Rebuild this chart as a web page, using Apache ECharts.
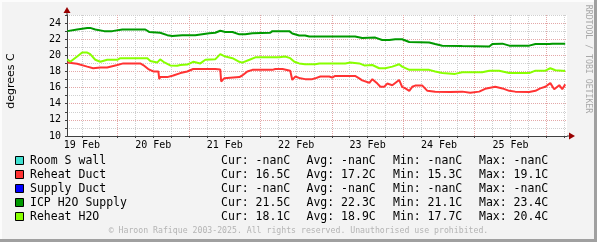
<!DOCTYPE html>
<html>
<head>
<meta charset="utf-8">
<script src="https://cdn.jsdelivr.net/npm/echarts@6/dist/echarts.min.js"></script>
<style>
html,body{margin:0;padding:0;background:#f3f3f3;}
#c{width:597px;height:242px;}
</style>
</head>
<body>
<div id="c"></div>
<script>
// ---- data (hours since 19 Feb 00:00, degrees C) ----
const xMin = 7, xMax = 175;
const dayLabelHours = [12, 36, 60, 84, 108, 132, 156];
const dayLabels = ['19 Feb', '20 Feb', '21 Feb', '22 Feb', '23 Feb', '24 Feb', '25 Feb'];
const gridHours = [12, 18, 24, 30, 36, 42, 48, 54, 60, 66, 72, 78, 84, 90, 96, 102, 108, 114, 120, 126, 132, 138, 144, 150, 156, 162, 168, 174];
const yLabelValues = [10, 12, 14, 16, 18, 20, 22, 24];

const roomSWall = [];
const supplyDuct = [];
const reheatDuct = [
  [7.1,19.1],[10.4,18.95],[13.8,18.6],[15.8,18.4],[18.2,18.5],[20.5,18.5],[23.9,18.8],[25.9,19.0],
  [31.6,19.0],[32.6,18.8],[34.3,18.3],[36.0,18.0],[37.7,18.0],[38.0,17.05],[38.3,17.3],[40.7,17.3],
  [42.7,17.5],[45.1,17.8],[47.4,18.0],[49.4,18.3],[56.8,18.3],[58.5,18.25],[58.8,16.75],[59.8,17.15],
  [64.9,17.3],[65.9,17.5],[67.6,18.0],[69.3,18.2],[76.0,18.2],[77.0,18.3],[79.4,18.3],[82.0,18.1],
  [82.7,16.95],[83.7,17.37],[85.4,17.15],[87.0,17.05],[89.4,17.05],[90.4,17.15],[92.1,17.37],[95.1,17.37],
  [96.1,17.25],[97.1,17.45],[103.8,17.45],[105.2,17.15],[106.2,16.9],[108.6,16.6],[109.6,17.05],[111.3,16.5],
  [112.3,16.1],[113.6,16.1],[114.6,16.5],[116.3,16.3],[118.6,16.95],[119.6,16.1],[120.7,15.9],[122.0,15.6],
  [123.0,16.1],[124.0,16.25],[126.4,16.25],[128.1,15.6],[130.7,15.5],[135.7,15.45],[139.8,15.5],[142.5,15.35],
  [145.5,15.5],[147.5,15.85],[150.9,16.1],[153.3,15.9],[155.6,15.6],[157.6,15.5],[162.3,15.45],[164.4,15.6],
  [166.0,15.9],[167.7,16.1],[169.4,16.55],[170.7,15.8],[172.4,16.3],[173.4,15.8],[174.4,16.4]
];
const icpH2OSupply = [
  [7.1,23.0],[10.4,23.2],[13.8,23.4],[14.8,23.4],[16.5,23.2],[19.5,23.0],[22.2,23.0],[25.6,23.2],
  [33.3,23.2],[34.6,22.9],[38.3,22.8],[40.7,22.5],[42.4,22.4],[45.7,22.5],[50.1,22.5],[54.8,22.75],
  [56.8,22.8],[58.5,23.05],[60.2,22.9],[62.6,22.9],[64.9,22.6],[66.9,22.6],[69.3,22.75],[75.3,22.8],
  [76.0,23.0],[81.7,23.0],[82.7,22.7],[85.0,22.45],[87.0,22.45],[88.4,22.33],[103.8,22.33],[106.2,22.15],
  [110.6,22.2],[112.9,21.9],[115.3,21.9],[117.3,22.0],[119.6,22.0],[122.0,21.65],[128.7,21.6],[130.7,21.4],
  [133.1,21.2],[139.8,21.15],[148.9,21.1],[149.9,21.4],[153.3,21.45],[155.6,21.2],[162.3,21.2],[164.4,21.4],
  [169.1,21.4],[170.1,21.45],[174.4,21.45]
];
const reheatH2O = [
  [7.1,19.5],[8.1,19.2],[10.4,19.85],[12.1,20.35],[13.8,20.35],[14.8,20.15],[16.5,19.45],[18.2,19.2],
  [20.5,19.45],[23.9,19.45],[24.9,19.65],[34.0,19.65],[35.0,19.3],[37.3,19.1],[38.3,19.5],[39.4,19.2],
  [41.7,18.75],[44.0,18.7],[45.1,18.8],[47.4,18.85],[49.4,19.2],[51.8,19.0],[53.5,19.45],[56.8,19.5],
  [58.5,20.15],[60.2,19.85],[62.6,19.65],[64.9,19.2],[65.9,19.1],[68.3,19.45],[70.3,19.75],[78.3,19.75],
  [80.3,19.85],[82.0,19.65],[83.4,19.2],[85.0,19.0],[87.0,18.9],[90.4,18.9],[91.8,19.0],[100.5,19.0],
  [102.2,19.1],[105.2,19.0],[106.9,18.75],[109.6,18.8],[111.9,18.4],[113.9,18.4],[116.3,18.6],[118.6,18.9],
  [119.6,18.6],[122.0,18.2],[128.7,18.2],[130.7,18.0],[133.1,17.8],[137.4,17.7],[139.8,17.9],[146.5,17.9],
  [148.9,18.1],[152.2,18.1],[155.6,17.8],[162.3,17.8],[164.4,18.1],[167.7,18.1],[169.4,18.4],[171.1,18.15],
  [173.4,18.1],[174.4,18.05]
];

// legend table
const seriesNames = ['Room S wall', 'Reheat Duct', 'Supply Duct', 'ICP H2O Supply', 'Reheat H2O'];
const seriesColors = ['#40e0d0', '#ff3333', '#0000ff', '#009900', '#88ff00'];
const curVals = ['-nanC', '16.5C', '-nanC', '21.5C', '18.1C'];
const avgVals = ['-nanC', '17.2C', '-nanC', '22.3C', '18.9C'];
const minVals = ['-nanC', '15.3C', '-nanC', '21.1C', '17.7C'];
const maxVals = ['-nanC', '19.1C', '-nanC', '23.4C', '20.4C'];
const seriesData = [roomSWall, reheatDuct, supplyDuct, icpH2OSupply, reheatH2O];

const MONO = '"DejaVu Sans Mono", monospace';
const majorGrid = '#e4a8a8';
const minorGrid = '#cfcfcf';

const chart = echarts.init(document.getElementById('c'), null, {renderer: 'canvas'});

const graphics = [];
// frame
graphics.push({type:'rect', shape:{x:0,y:0,width:597,height:242}, style:{fill:'#f3f3f3'}, z:-10});
graphics.push({type:'rect', shape:{x:0,y:0,width:597,height:2}, style:{fill:'#fcfcfc'}, z:-9});
graphics.push({type:'rect', shape:{x:0,y:0,width:2,height:242}, style:{fill:'#fcfcfc'}, z:-9});
graphics.push({type:'rect', shape:{x:594,y:0,width:3,height:242}, style:{fill:'#a0a0a0'}, z:-9});
graphics.push({type:'rect', shape:{x:0,y:239,width:597,height:3}, style:{fill:'#a0a0a0'}, z:-9});
// axis extensions + arrows
graphics.push({type:'line', shape:{x1:67,y1:15,x2:67,y2:10}, style:{stroke:'#404040',lineWidth:1}, z:10});
graphics.push({type:'line', shape:{x1:567,y1:136,x2:571,y2:136}, style:{stroke:'#404040',lineWidth:1}, z:10});
graphics.push({type:'polygon', shape:{points:[[63.5,13],[70.5,13],[67,7]]}, style:{fill:'#990000'}, z:11});
graphics.push({type:'polygon', shape:{points:[[569,132.5],[569,139.5],[575,136]]}, style:{fill:'#990000'}, z:11});
// y axis title
graphics.push({type:'text', x:11, y:81, rotation:Math.PI/2,
  style:{text:'degrees C', font:'11px "DejaVu Sans", sans-serif', fill:'#000', align:'center', verticalAlign:'middle'}});
// right credit
graphics.push({type:'text', x:588.5, y:59, rotation:-Math.PI/2,
  style:{text:'RRDTOOL / TOBI OETIKER', font:'8.2px ' + MONO, fill:'#a8a8a8', align:'center', verticalAlign:'middle'}});
// legend rows
for (let i = 0; i < seriesNames.length; i++) {
  const cy = 161 + i * 14;
  graphics.push({type:'rect', shape:{x:15.5,y:cy-4.5,width:8,height:8}, style:{fill:seriesColors[i], stroke:'#000', lineWidth:1}});
  const cols = [[30, seriesNames[i]], [221, 'Cur: ' + curVals[i]], [306.5, 'Avg: ' + avgVals[i]], [393, 'Min: ' + minVals[i]], [479, 'Max: ' + maxVals[i]]];
  cols.forEach(([x, t]) => {
    graphics.push({type:'text', x:x, y:cy, style:{text:t, font:'11.5px ' + MONO, fill:'#000', align:'left', verticalAlign:'middle'}});
  });
}
graphics.push({type:'text', x:298.5, y:231, style:{text:'\u00a9 Haroon Rafique 2003-2025. All rights reserved. Unauthorised use prohibited.',
  font:'8.2px ' + MONO, fill:'#b4b4b4', align:'center', verticalAlign:'middle'}});

const series = seriesNames.map((n, i) => ({
  name: n, type: 'line', data: seriesData[i], showSymbol: false, symbol: 'none',
  lineStyle: {color: seriesColors[i], width: 2}, itemStyle:{color: seriesColors[i]},
  animation: false, z: 3 + i
}));

chart.setOption({
  animation: false,
  backgroundColor: 'transparent',
  grid: {left: 67, right: 30, top: 15, bottom: 106, show: true, backgroundColor: '#ffffff', borderWidth: 0},
  xAxis: {
    type: 'value', min: xMin, max: xMax,
    axisLine: {show: true, onZero: false, lineStyle: {color: '#404040', width: 1}},
    axisTick: {show: true, length: 2, customValues: gridHours, lineStyle:{color:'#404040'}},
    axisLabel: {show: true, customValues: dayLabelHours, margin: 4,
      formatter: v => dayLabels[dayLabelHours.indexOf(Math.round(v))] || '',
      fontFamily: 'DejaVu Sans Mono', fontSize: 10, color: '#000'},
    splitLine: {show: true, lineStyle: {type: [1, 1], width: 1, color: [minorGrid, minorGrid, majorGrid, minorGrid]}}
  },
  yAxis: {
    type: 'value', min: 10, max: 25, interval: 1,
    axisLine: {show: true, onZero: false, lineStyle: {color: '#404040', width: 1}},
    axisTick: {show: true, length: 2, lineStyle:{color:'#404040'}},
    axisLabel: {margin: 6, fontFamily: 'DejaVu Sans Mono', fontSize: 10, color: '#000',
      formatter: v => (yLabelValues.indexOf(v) >= 0 ? String(v) : '')},
    splitLine: {show: true, lineStyle: {type: [1, 1], width: 1, color: [majorGrid, minorGrid]}}
  },
  graphic: graphics,
  series: series
});
</script>
</body>
</html>
